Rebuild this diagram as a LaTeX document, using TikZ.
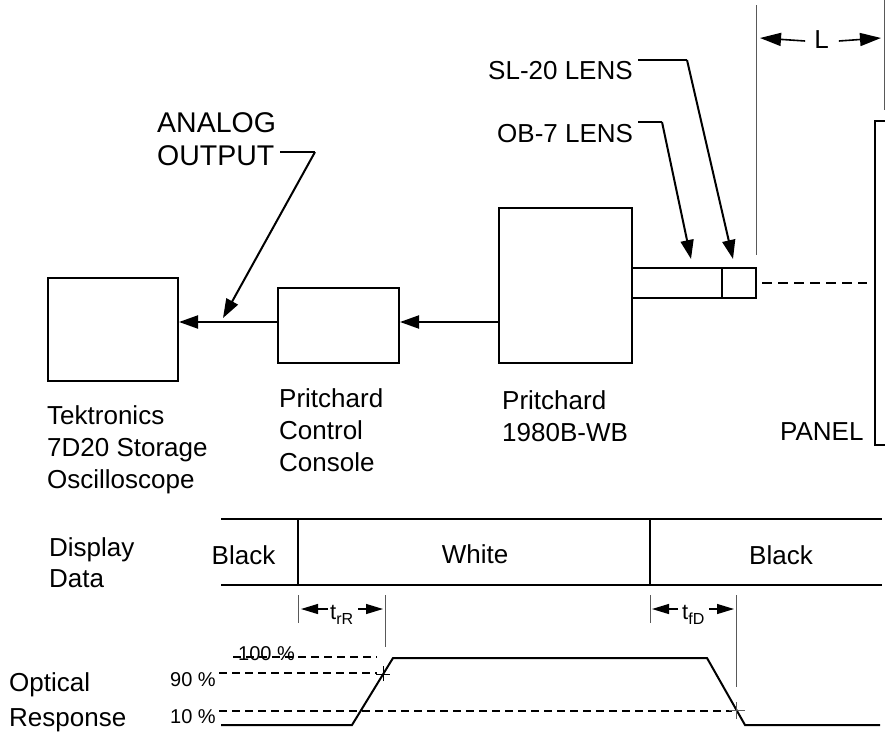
\documentclass[tikz,border=0pt]{standalone}
\usepackage{fontspec}
\setmainfont{Liberation Sans}
\usetikzlibrary{arrows.meta}
\begin{document}
\begin{tikzpicture}[x=1pt,y=-1pt,
  box/.style={draw,line width=2pt,inner sep=0pt},
  lbl/.style={font=\fontsize{26}{32}\selectfont,align=left,inner sep=0pt,anchor=north west},
  small/.style={font=\fontsize{20}{20}\selectfont,inner sep=0pt},
  thin/.style={line width=1pt,draw=black!65},
  heavy/.style={line width=2pt},
  dsh/.style={line width=1.4pt,dash pattern=on 8pt off 5pt},
  arr/.style={line width=2pt,-{Triangle[length=19pt,width=13pt]}},
  tarr/.style={line width=1.2pt,-{Triangle[length=17pt,width=10pt]}},
  tlbl/.style={font=\fontsize{22}{22}\selectfont,inner sep=0pt,anchor=north west}]
\useasboundingbox (0,0) rectangle (885,731);

% --- boxes ---
\node[box,minimum width=130pt,minimum height=103pt] (scope) at (113,329.5) {};
\node[box,minimum width=121pt,minimum height=75pt] (console) at (338.5,325.5) {};
\node[box,minimum width=133pt,minimum height=155pt] (pritch) at (565.5,285.5) {};
\node[draw,line width=1.6pt,inner sep=0pt,minimum width=124pt,minimum height=30pt] (lens) at (694,283) {};
\coordinate (divt) at (722,267);
\coordinate (divb) at (722,299);
\draw[line width=1.6pt] (divt) -- (divb);

% --- signal arrows ---
\coordinate (lvl) at (0,322);
\draw[arr] (pritch.west |- lvl) -- (console.east |- lvl);
\draw[arr] (console.west |- lvl) -- (scope.east |- lvl);

% --- labels of boxes ---
\node[lbl] (tek) at (47,405) {Tektronics\\7D20 Storage\\Oscilloscope};
\node[lbl] (con) at (279,388) {Pritchard\\Control\\Console};
\node[lbl] (pri) at (502,390) {Pritchard\\1980B-WB};

% --- analog output leader ---
\node[lbl,font=\fontsize{28.5}{33}\selectfont] (ao) at (157,112) {ANALOG\\OUTPUT};
\coordinate (aoS) at (280,152);
\coordinate (aoB) at (315,152);
\coordinate (aoT) at (223,318);
\draw[line width=1.6pt] (aoS) -- (aoB);
\draw[arr] (aoB) -- (aoT);

% --- lens leaders ---
\node[lbl] (sl) at (488,61) {SL-20 LENS};
\node[lbl] (ob) at (497,124) {OB-7 LENS};
\coordinate (slS) at (638,60);
\coordinate (slB) at (687,60);
\coordinate (slT) at (733,259);
\coordinate (obS) at (638,122);
\coordinate (obB) at (662,122);
\coordinate (obT) at (691,259);
\draw[line width=1.6pt] (slS) -- (slB);
\draw[arr] (slB) -- (slT);
\draw[line width=1.6pt] (obS) -- (obB);
\draw[arr] (obB) -- (obT);

% --- L dimension ---
\coordinate (lvTop) at (756,5);
\coordinate (lvBot) at (756,255);
\coordinate (rvTop) at (884,0);
\coordinate (rvBot) at (884,110);
\draw[thin] (lvTop) -- (lvBot);
\draw[thin] (rvTop) -- (rvBot);
\node[font=\fontsize{26}{26}\selectfont,inner sep=0pt] (L) at (821.5,39.5) {L};
\coordinate (Lla) at (760,38);
\coordinate (Lra) at (881,38);
\draw[line width=1.6pt,-{Triangle[length=21pt,width=13pt]}] (L.west) ++(-9pt,-1.5pt) coordinate (Lls) -- (Lla);
\draw[line width=1.6pt,-{Triangle[length=21pt,width=13pt]}] (L.east) ++(10pt,-1.5pt) coordinate (Lrs) -- (Lra);

% --- panel ---
\coordinate (panTT) at (885,121);
\coordinate (panT) at (875,121);
\coordinate (panB) at (875,445);
\coordinate (panBB) at (885,445);
\draw[heavy] (panTT) -- (panT) -- (panB) -- (panBB);
\node[lbl] (panel) at (780,422) {PANEL};
\coordinate (dashS) at (762,283);
\coordinate (dashE) at (867,283);
\draw[line width=1.6pt,dash pattern=on 10pt off 6pt] (dashS) -- (dashE);

% --- display data ---
\node[lbl,font=\fontsize{26}{31}\selectfont] (dd) at (49,537) {Display\\Data};
\coordinate (dTL) at (221,519);
\coordinate (dTR) at (882,519);
\coordinate (dBL) at (221,585);
\coordinate (dBR) at (882,585);
\draw[heavy] (dTL) -- (dTR);
\draw[heavy] (dBL) -- (dBR);
\coordinate (v1t) at (298,519);
\coordinate (v1b) at (298,585);
\coordinate (v2t) at (650,519);
\coordinate (v2b) at (650,585);
\draw[line width=1.6pt] (v1t) -- (v1b);
\draw[line width=1.6pt] (v2t) -- (v2b);
\node[font=\fontsize{26}{26}\selectfont,inner sep=0pt,anchor=north] (bk1) at (243.5,545) {Black};
\node[font=\fontsize{26}{26}\selectfont,inner sep=0pt,anchor=north] (wh) at (475,544) {White};
\node[font=\fontsize{26}{26}\selectfont,inner sep=0pt,anchor=north] (bk2) at (781,545) {Black};

% --- timing markers ---
\coordinate (r1t) at (298,595);
\coordinate (r1b) at (298,623);
\coordinate (r2t) at (385,595);
\coordinate (r2b) at (385,647);
\coordinate (f1t) at (650,595);
\coordinate (f1b) at (650,623);
\coordinate (f2t) at (736,595);
\coordinate (f2b) at (736,687);
\draw[thin] (r1t) -- (r1b);
\draw[thin] (r2t) -- (r2b);
\draw[thin] (f1t) -- (f1b);
\draw[thin] (f2t) -- (f2b);
\node[tlbl] (trr) at (330,605) {t\raisebox{-5pt}{\fontsize{16}{16}\selectfont rR}};
\node[tlbl] (tfd) at (682,605) {t\raisebox{-5pt}{\fontsize{16}{16}\selectfont fD}};
\coordinate (ra1) at (328,609);
\coordinate (ra1t) at (301,609);
\coordinate (ra2) at (358,609);
\coordinate (ra2t) at (383,609);
\coordinate (fa1) at (678,609);
\coordinate (fa1t) at (652,609);
\coordinate (fa2) at (709,609);
\coordinate (fa2t) at (734,609);
\draw[tarr] (ra1) -- (ra1t);
\draw[tarr] (ra2) -- (ra2t);
\draw[tarr] (fa1) -- (fa1t);
\draw[tarr] (fa2) -- (fa2t);

% --- optical response ---
\node[lbl,font=\fontsize{26}{35}\selectfont] (opt) at (9,672) {Optical\\Response};
\node[small,anchor=base west] (p100) at (238,660) {100 \%};
\node[small,anchor=north west] (p90) at (170,672) {90 \%};
\node[small,anchor=north west] (p10) at (170,709) {10 \%};
\coordinate (d100s) at (233,657);
\coordinate (d100e) at (377,657);
\coordinate (d90s) at (219,673);
\coordinate (d90e) at (377,673);
\coordinate (d10s) at (219,711);
\coordinate (d10e) at (732,711);
\draw[dsh] (d100s) -- (d100e);
\draw[dsh] (d90s) -- (d90e);
\draw[dsh] (d10s) -- (d10e);
\coordinate (w0) at (221,725);
\coordinate (w1) at (352,725);
\coordinate (w2) at (393,658);
\coordinate (w3) at (707,658);
\coordinate (w4) at (745,725);
\coordinate (w5) at (880,725);
\draw[heavy,line join=miter] (w0) -- (w1) -- (w2) -- (w3) -- (w4) -- (w5);
% cross marks
\coordinate (c1) at (383,674);
\draw[line width=1pt] ([xshift=-7pt]c1) -- ([xshift=7pt]c1);
\draw[line width=1pt] ([yshift=-7pt]c1) -- ([yshift=8pt]c1);
\coordinate (c2) at (736,710);
\draw[thin,line width=0.8pt] ([xshift=-7pt]c2) -- ([xshift=9pt]c2);
\draw[thin,line width=0.8pt] ([yshift=-9pt]c2) -- ([yshift=8pt]c2);
\end{tikzpicture}
\end{document}
